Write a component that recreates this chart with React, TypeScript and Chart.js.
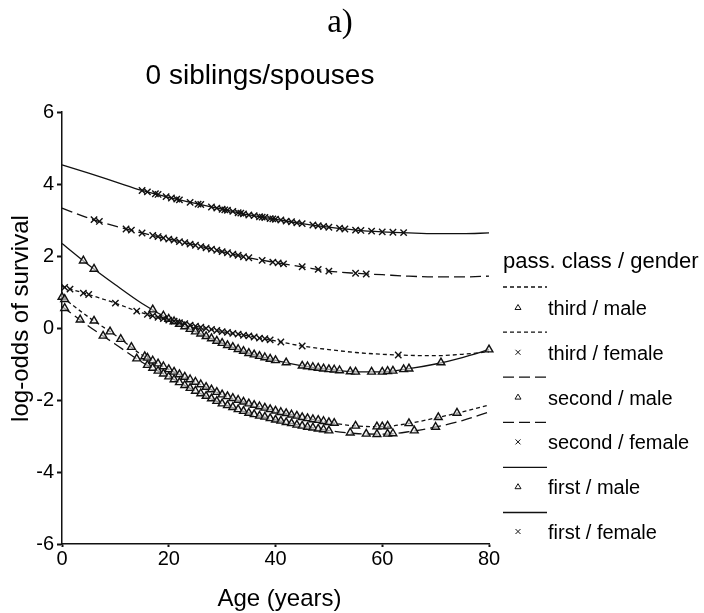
import React, { useEffect, useRef } from "react";
import { Chart, registerables } from "chart.js";

Chart.register(...registerables);

// ---------------- data ----------------
const figureLabel = "a)";
const subtitleText = "0 siblings/spouses";
const xTitle = "Age (years)";
const yTitle = "log-odds of survival";
const legendTitle = "pass. class / gender";

const xTicks = [0, 20, 40, 60, 80];
const yTicks = [-6, -4, -2, 0, 2, 4, 6];

// fitted curves sampled every 5 years
const curveAges = [0, 5, 10, 15, 20, 25, 30, 35, 40, 45, 50, 55, 60, 65, 70, 75, 80];
const thirdMaleCurve = [0.86, 0.3, -0.2, -0.75, -1.15, -1.5, -1.85, -2.1, -2.3, -2.48, -2.62, -2.72, -2.74, -2.65, -2.5, -2.33, -2.14];
const thirdFemaleCurve = [1.15, 0.93, 0.69, 0.42, 0.22, 0.05, -0.1, -0.22, -0.36, -0.5, -0.6, -0.68, -0.73, -0.76, -0.77, -0.73, -0.66];
const secondMaleCurve = [0.6, 0.05, -0.45, -0.95, -1.35, -1.75, -2.1, -2.36, -2.55, -2.72, -2.85, -2.93, -2.95, -2.88, -2.75, -2.57, -2.33];
const secondFemaleCurve = [3.33, 3.05, 2.83, 2.64, 2.47, 2.3, 2.12, 1.95, 1.82, 1.7, 1.58, 1.52, 1.48, 1.44, 1.42, 1.42, 1.44];
const firstMaleCurve = [2.35, 1.75, 1.2, 0.68, 0.25, -0.1, -0.42, -0.7, -0.9, -1.05, -1.15, -1.22, -1.22, -1.13, -1.0, -0.82, -0.6];
const firstFemaleCurve = [4.53, 4.3, 4.06, 3.82, 3.63, 3.46, 3.3, 3.14, 3.02, 2.9, 2.8, 2.72, 2.67, 2.64, 2.62, 2.62, 2.64];

// observed passengers (age, fitted log-odds)
const thirdMaleAges = [0, 0.5, 6, 9, 11, 13, 15.5, 16, 17, 18, 19, 20, 21, 22, 23, 24, 25, 26, 27, 28, 29, 30, 31, 32, 33, 34, 35, 36, 37, 38, 39, 40, 41, 42, 43, 44, 45, 46, 47, 48, 49, 50, 51, 55, 59, 60, 61, 65, 70.5, 74];
const thirdMaleValues = [0.86, 0.8, 0.2, -0.1, -0.31, -0.53, -0.79, -0.83, -0.91, -0.99, -1.07, -1.15, -1.22, -1.29, -1.36, -1.43, -1.5, -1.57, -1.64, -1.71, -1.78, -1.85, -1.9, -1.95, -2.0, -2.05, -2.1, -2.14, -2.18, -2.22, -2.26, -2.3, -2.34, -2.37, -2.41, -2.44, -2.48, -2.51, -2.54, -2.56, -2.59, -2.62, -2.64, -2.72, -2.74, -2.74, -2.72, -2.65, -2.48, -2.36];

const thirdFemaleAges = [0.5, 1.5, 4, 5, 10, 14, 16, 17, 18, 19, 20, 21, 22, 23, 24, 25, 26, 27, 28, 29, 30, 31, 32, 33, 34, 35, 36, 37, 38, 39, 41, 45, 63];
const thirdFemaleValues = [1.13, 1.08, 0.97, 0.93, 0.69, 0.47, 0.38, 0.34, 0.3, 0.26, 0.22, 0.19, 0.15, 0.12, 0.08, 0.05, 0.02, -0.01, -0.04, -0.07, -0.1, -0.12, -0.15, -0.17, -0.2, -0.22, -0.25, -0.28, -0.3, -0.33, -0.39, -0.5, -0.75];

const secondMaleAges = [0.5, 3.4, 7.7, 14, 16, 17, 18, 19, 20, 21, 22, 23, 24, 25, 26, 27, 28, 29, 30, 31, 32, 33, 34, 35, 36, 37, 38, 39, 40, 41, 42, 43, 44, 45, 46, 47, 48, 49, 50, 54, 57, 59, 61, 62, 66, 70];
const secondMaleValues = [0.55, 0.23, -0.22, -0.85, -1.03, -1.11, -1.19, -1.27, -1.35, -1.43, -1.51, -1.59, -1.67, -1.75, -1.82, -1.89, -1.96, -2.03, -2.1, -2.15, -2.2, -2.26, -2.31, -2.36, -2.4, -2.44, -2.47, -2.51, -2.55, -2.58, -2.62, -2.65, -2.69, -2.72, -2.75, -2.77, -2.8, -2.82, -2.85, -2.91, -2.94, -2.95, -2.94, -2.93, -2.85, -2.75];

const secondFemaleAges = [6, 7, 12, 13, 15, 17, 18, 19, 20, 21, 22, 23, 24, 25, 26, 27, 28, 29, 30, 31, 32, 33, 34, 35, 37.5, 39.5, 40.5, 41.5, 45, 48, 50, 55, 57];
const secondFemaleValues = [3.01, 2.96, 2.75, 2.72, 2.64, 2.57, 2.54, 2.5, 2.47, 2.44, 2.4, 2.37, 2.33, 2.3, 2.26, 2.23, 2.19, 2.16, 2.12, 2.09, 2.05, 2.02, 1.98, 1.95, 1.88, 1.83, 1.81, 1.78, 1.7, 1.63, 1.58, 1.52, 1.5];

const firstMaleAges = [4, 6, 17, 19, 20, 21, 22, 23, 24, 25, 26, 27, 28, 29, 30, 31, 32, 33, 34, 35, 36, 37, 38, 39, 40, 42, 45, 46, 47, 48, 49, 50, 51, 52, 54, 55, 58, 60, 61, 62, 64, 65, 71, 80];
const firstMaleValues = [1.87, 1.64, 0.51, 0.34, 0.25, 0.18, 0.11, 0.04, -0.03, -0.1, -0.16, -0.23, -0.29, -0.36, -0.42, -0.48, -0.53, -0.59, -0.64, -0.7, -0.74, -0.78, -0.82, -0.86, -0.9, -0.96, -1.05, -1.07, -1.09, -1.11, -1.13, -1.15, -1.16, -1.18, -1.21, -1.22, -1.22, -1.22, -1.2, -1.19, -1.15, -1.13, -0.96, -0.6];

const firstFemaleAges = [15, 16, 17.5, 18, 19.5, 20.5, 21.5, 22, 24, 25.5, 26, 28, 29, 30, 30.5, 31, 32, 33, 33.5, 34, 35, 36, 37, 37.5, 38, 39, 39.5, 40, 41, 42, 43, 44, 45, 47, 48, 49, 50, 52, 53, 55, 56, 58, 60, 62, 64];
const firstFemaleValues = [3.82, 3.78, 3.73, 3.71, 3.65, 3.61, 3.58, 3.56, 3.49, 3.44, 3.43, 3.36, 3.33, 3.3, 3.28, 3.27, 3.24, 3.2, 3.19, 3.17, 3.14, 3.12, 3.09, 3.08, 3.07, 3.04, 3.03, 3.02, 3.0, 2.97, 2.95, 2.92, 2.9, 2.86, 2.84, 2.82, 2.8, 2.77, 2.75, 2.72, 2.71, 2.69, 2.67, 2.66, 2.65];

const seriesLabels = ["third / male", "third / female", "second / male", "second / female", "first / male", "first / female"];
const seriesCurves = [thirdMaleCurve, thirdFemaleCurve, secondMaleCurve, secondFemaleCurve, firstMaleCurve, firstFemaleCurve];
const seriesAges = [thirdMaleAges, thirdFemaleAges, secondMaleAges, secondFemaleAges, firstMaleAges, firstFemaleAges];
const seriesValues = [thirdMaleValues, thirdFemaleValues, secondMaleValues, secondFemaleValues, firstMaleValues, firstFemaleValues];

// ---------------- styles ----------------
const SHORT_DASH = [4, 3];
const LONG_DASH = [11, 5];
const seriesDash = [SHORT_DASH, SHORT_DASH, LONG_DASH, LONG_DASH, [], []];
const seriesMarker = ["triangle", "crossRot", "triangle", "crossRot", "triangle", "crossRot"];
const SANS = '"Liberation Sans", Arial, Helvetica, sans-serif';
const SERIF = '"Liberation Serif", "Times New Roman", serif';
const INK = "#111";

const overlayPlugin = {
  id: "overlay",
  afterDraw(chart: any) {
    const ctx = chart.ctx as CanvasRenderingContext2D;
    ctx.save();
    ctx.fillStyle = "#000";
    ctx.textAlign = "center";
    ctx.textBaseline = "alphabetic";
    ctx.font = `33px ${SERIF}`;
    ctx.fillText(figureLabel, 340, 32);
    ctx.font = `28px ${SANS}`;
    ctx.fillText(subtitleText, 260, 84);
    ctx.font = `24px ${SANS}`;
    ctx.fillText(xTitle, 279.5, 606);
    ctx.save();
    ctx.translate(27.5, 318.5);
    ctx.rotate(-Math.PI / 2);
    ctx.fillText(yTitle, 0, 0);
    ctx.restore();

    // legend
    ctx.textAlign = "left";
    ctx.textBaseline = "middle";
    ctx.font = `22px ${SANS}`;
    ctx.fillText(legendTitle, 503, 262);
    ctx.font = `20px ${SANS}`;
    for (let i = 0; i < seriesLabels.length; i++) {
      const ly = 287 + i * 45.1;
      const ty = 309.5 + i * 44.8;
      ctx.strokeStyle = INK;
      ctx.lineWidth = 1.3;
      ctx.setLineDash(seriesDash[i]);
      ctx.beginPath();
      ctx.moveTo(503, ly);
      ctx.lineTo(547, ly);
      ctx.stroke();
      ctx.setLineDash([]);
      ctx.lineWidth = 1;
      const mx = 518;
      const my = ty - 2;
      ctx.beginPath();
      if (seriesMarker[i] === "triangle") {
        ctx.moveTo(mx, my - 3);
        ctx.lineTo(mx + 3, my + 2);
        ctx.lineTo(mx - 3, my + 2);
        ctx.closePath();
      } else {
        ctx.moveTo(mx - 2.5, my - 2.5);
        ctx.lineTo(mx + 2.5, my + 2.5);
        ctx.moveTo(mx + 2.5, my - 2.5);
        ctx.lineTo(mx - 2.5, my + 2.5);
      }
      ctx.stroke();
      ctx.fillStyle = "#000";
      ctx.fillText(seriesLabels[i], 548, ty);
    }
    ctx.restore();
  },
};

export default function App() {
  const canvasRef = useRef<HTMLCanvasElement | null>(null);

  useEffect(() => {
    if (!canvasRef.current) return;
    const datasets: any[] = [];
    for (let i = 0; i < seriesLabels.length; i++) {
      datasets.push({
        type: "scatter",
        label: seriesLabels[i] + " (obs)",
        data: seriesAges[i].map((a, k) => ({ x: a, y: seriesValues[i][k] })),
        showLine: false,
        pointStyle: seriesMarker[i],
        pointRadius: seriesMarker[i] === "triangle" ? 4.5 : 4.5,
        pointBorderWidth: 1.4,
        pointBorderColor: INK,
        pointBackgroundColor: "rgba(235,235,235,0.6)",
        order: 0,
        clip: false,
      });
    }
    for (let i = 0; i < seriesLabels.length; i++) {
      datasets.push({
        type: "line",
        label: seriesLabels[i],
        data: curveAges.map((a, k) => ({ x: a, y: seriesCurves[i][k] })),
        borderColor: INK,
        borderWidth: 1.3,
        borderDash: seriesDash[i],
        pointRadius: 0,
        fill: false,
        cubicInterpolationMode: "monotone",
        order: 1,
        clip: false,
      });
    }

    const chart = new Chart(canvasRef.current, {
      type: "scatter",
      data: { datasets },
      options: {
        responsive: false,
        animation: false,
        layout: { padding: { left: 0, top: 112, right: 215, bottom: 0 } },
        plugins: {
          legend: { display: false },
          title: { display: false },
          tooltip: { enabled: false },
        },
        scales: {
          x: {
            type: "linear",
            min: 0,
            max: 80,
            afterBuildTicks: (scale: any) => {
              scale.ticks = xTicks.map((v) => ({ value: v }));
            },
            afterFit: (scale: any) => {
              scale.height = 69;
            },
            ticks: {
              color: "#000",
              font: { family: SANS, size: 20 },
              padding: 0,
              maxRotation: 0,
            },
            grid: {
              display: true,
              drawOnChartArea: false,
              drawTicks: true,
              tickLength: 3,
              tickWidth: 2,
              tickColor: INK,
            },
            border: { display: true, color: INK, width: 1.5 },
          },
          y: {
            type: "linear",
            min: -6,
            max: 6,
            afterBuildTicks: (scale: any) => {
              scale.ticks = yTicks.map((v) => ({ value: v }));
            },
            afterFit: (scale: any) => {
              scale.width = 62;
            },
            ticks: {
              color: "#000",
              font: { family: SANS, size: 20 },
              padding: 3,
            },
            grid: {
              display: true,
              drawOnChartArea: false,
              drawTicks: true,
              tickLength: 5,
              tickWidth: 2,
              tickColor: INK,
            },
            border: { display: true, color: INK, width: 1.5 },
          },
        },
      },
      plugins: [overlayPlugin],
    });
    return () => chart.destroy();
  }, []);

  return (
    <div style={{ position: "fixed", left: 0, top: 0, width: 704, height: 613, background: "#fff" }}>
      <canvas ref={canvasRef} width={704} height={613} style={{ display: "block", width: 704, height: 613 }} />
    </div>
  );
}
